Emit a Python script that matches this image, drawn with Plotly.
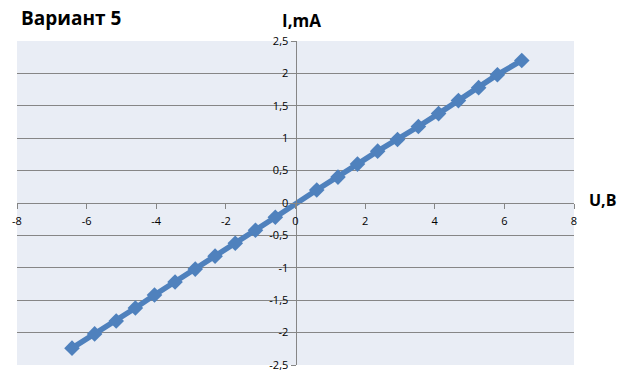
import plotly.graph_objects as go

# Data
u_values = [-6.42, -5.77, -5.15, -4.60, -4.05, -3.46, -2.88, -2.31, -1.73, -1.15, -0.58,
            0.61, 1.22, 1.78, 2.36, 2.93, 3.53, 4.11, 4.68, 5.26, 5.80, 6.50]
i_values = [-2.24, -2.02, -1.82, -1.62, -1.42, -1.22, -1.02, -0.82, -0.62, -0.42, -0.22,
            0.20, 0.40, 0.60, 0.80, 0.98, 1.18, 1.38, 1.58, 1.78, 1.98, 2.20]

x_ticks = [-8, -6, -4, -2, 0, 2, 4, 6, 8]
x_tick_labels = ["-8", "-6", "-4", "-2", "0", "2", "4", "6", "8"]
y_ticks = [-2.5, -2, -1.5, -1, -0.5, 0, 0.5, 1, 1.5, 2, 2.5]
y_tick_labels = ["-2,5", "-2", "-1,5", "-1", "-0,5", "0", "0,5", "1", "1,5", "2", "2,5"]

title_text = "Вариант 5"
y_title = "I,mA"
x_title = "U,B"

BLUE = "#4F81BD"
GRID = "#868686"
FONT = "Open Sans"

fig = go.Figure()
fig.add_trace(go.Scatter(
    x=u_values, y=i_values, mode="lines+markers",
    line=dict(color=BLUE, width=5.5),
    marker=dict(symbol="diamond", size=12, color=BLUE),
    showlegend=False, hoverinfo="skip",
))

L, R, T, B = 17, 50, 41, 13
W, H = 624, 378
pw, ph = W - L - R, H - T - B

def px(x):
    return (x - L) / pw

def py(y):
    return (H - B - y) / ph

fig.update_layout(
    width=W, height=H,
    margin=dict(l=L, r=R, t=T, b=B, pad=0, autoexpand=False),
    paper_bgcolor="white",
    plot_bgcolor="#E9EDF5",
    font=dict(family=FONT, size=11, color="#000000"),
    xaxis=dict(
        range=[-8, 8], tickvals=x_ticks, ticktext=x_tick_labels,
        showgrid=False, zeroline=False,
        showline=True, linecolor=GRID, linewidth=1,
        ticks="outside", ticklen=5, tickcolor=GRID, tickwidth=1,
        anchor="free", position=0.5, ticklabelstandoff=3,
        automargin=False, fixedrange=True,
    ),
    yaxis=dict(
        range=[-2.5, 2.5], tickvals=y_ticks, ticktext=y_tick_labels,
        showgrid=True, gridcolor=GRID, gridwidth=1, zeroline=False,
        showline=True, linecolor=GRID, linewidth=1,
        ticks="outside", ticklen=5, tickcolor=GRID, tickwidth=1,
        anchor="free", position=0.5,
        automargin=False, fixedrange=True,
    ),
    annotations=[
        dict(text="<b>" + title_text + "</b>", xref="paper", yref="paper",
             x=px(19), y=py(18), xanchor="left", yanchor="middle",
             showarrow=False, font=dict(family=FONT, size=19, color="#000000")),
        dict(text="<b>" + y_title + "</b>", xref="paper", yref="paper",
             x=px(280), y=py(20.5), xanchor="left", yanchor="middle",
             showarrow=False, font=dict(family=FONT, size=17, color="#000000")),
        dict(text="<b>" + x_title + "</b>", xref="paper", yref="paper",
             x=px(587), y=py(200), xanchor="left", yanchor="middle",
             showarrow=False, font=dict(family=FONT, size=16, color="#000000")),
    ],
)

fig.write_html("out.html")
